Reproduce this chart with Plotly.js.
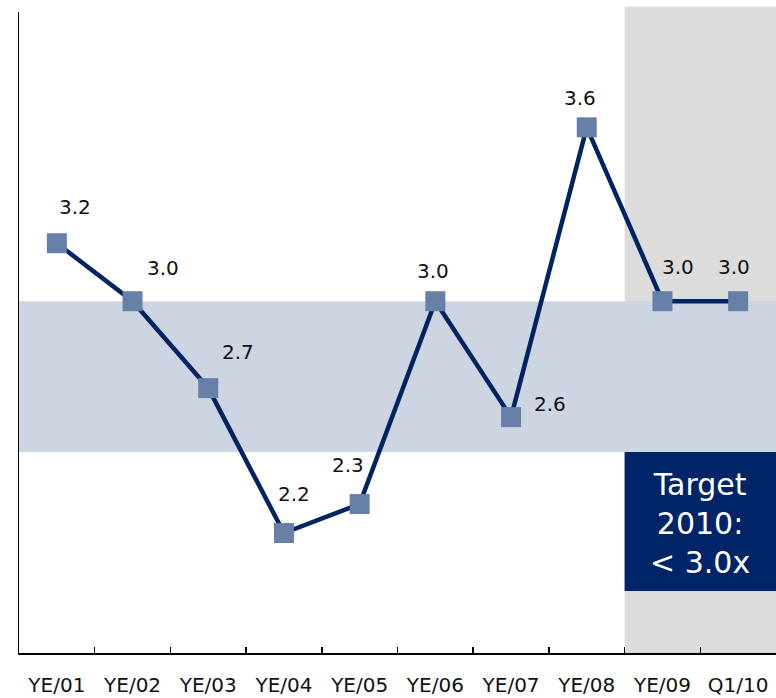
<!DOCTYPE html>
<html>
<head>
<meta charset="utf-8">
<script src="https://cdn.plot.ly/plotly-3.0.1.min.js"></script>
<style>html,body{margin:0;padding:0;background:#fff;}#chart{width:776px;height:698px;}</style>
</head>
<body>
<div id="chart"></div>
<script>
// Data
const categories = ['YE/01','YE/02','YE/03','YE/04','YE/05','YE/06','YE/07','YE/08','YE/09','Q1/10'];
const values = [3.2, 3.0, 2.7, 2.2, 2.3, 3.0, 2.6, 3.6, 3.0, 3.0];
const targetBandLow = 2.48;
const targetBandHigh = 3.0;
const targetBoxLow = 2.0;
const shadedFrom = 'YE/09';
const targetText = ['Target', '2010:', '&lt; 3.0x'];

// label placement (pixel shifts relative to each marker)
const labelShiftX = [18, 30, 30, 10, -12, -2, 39, -7, 16, -4];
const labelShiftY = [36, 33, 36, 39, 39, 30, 13, 29, 34, 34];

const shadeStart = categories.indexOf(shadedFrom) - 0.5;
const shadeEnd = categories.length - 0.5;

const trace = {
  x: categories,
  y: values,
  type: 'scatter',
  mode: 'lines+markers',
  line: {color: '#002463', width: 4.5},
  marker: {symbol: 'square', size: 20, color: '#6680a8', line: {width: 0}},
  hoverinfo: 'skip'
};

const annotations = values.map((v, i) => ({
  x: categories[i], y: v, xref: 'x', yref: 'y',
  text: v.toFixed(1), showarrow: false,
  xshift: labelShiftX[i], yshift: labelShiftY[i],
  font: {family: 'DejaVu Sans', size: 20, color: '#111111'}
}));
annotations.push({
  x: (shadeStart + shadeEnd) / 2, y: (targetBandLow + targetBoxLow) / 2,
  xref: 'x', yref: 'y', showarrow: false, yshift: -2,
  text: targetText.join('<br>'),
  font: {family: 'DejaVu Sans', size: 30, color: '#ffffff'},
  align: 'center'
});

const layout = {
  width: 776, height: 698,
  margin: {l: 19, r: 0, t: 12, b: 45},
  paper_bgcolor: '#ffffff', plot_bgcolor: 'rgba(0,0,0,0)',
  showlegend: false,
  xaxis: {
    type: 'category', range: [-0.5, categories.length - 0.5],
    showline: true, linecolor: '#000000', linewidth: 1.5,
    ticks: 'inside', ticklen: 6, tickcolor: '#000000', tickwidth: 1.5,
    tickson: 'boundaries', showgrid: false, zeroline: false,
    tickangle: 0,
    tickfont: {family: 'DejaVu Sans', size: 20, color: '#111111'},
    ticklabelstandoff: 13, fixedrange: true
  },
  yaxis: {
    range: [1.786, 3.998],
    showline: true, linecolor: '#000000', linewidth: 1.5,
    showticklabels: false, ticks: '', showgrid: false, zeroline: false,
    fixedrange: true
  },
  shapes: [
    {type: 'rect', layer: 'below', xref: 'x', yref: 'paper', x0: shadeStart, x1: shadeEnd, y0: 0, y1: 1.008,
     fillcolor: '#dcdcdc', line: {width: 0}},
    {type: 'rect', layer: 'below', xref: 'paper', yref: 'y', x0: 0, x1: 1, y0: targetBandLow, y1: targetBandHigh,
     fillcolor: '#cdd5e3', line: {width: 0}},
    {type: 'rect', layer: 'below', xref: 'x', yref: 'y', x0: shadeStart, x1: shadeEnd, y0: targetBoxLow, y1: targetBandLow,
     fillcolor: '#002468', line: {width: 0}}
  ],
  annotations: annotations
};

Plotly.newPlot('chart', [trace], layout, {displayModeBar: false, staticPlot: true});
</script>
</body>
</html>
